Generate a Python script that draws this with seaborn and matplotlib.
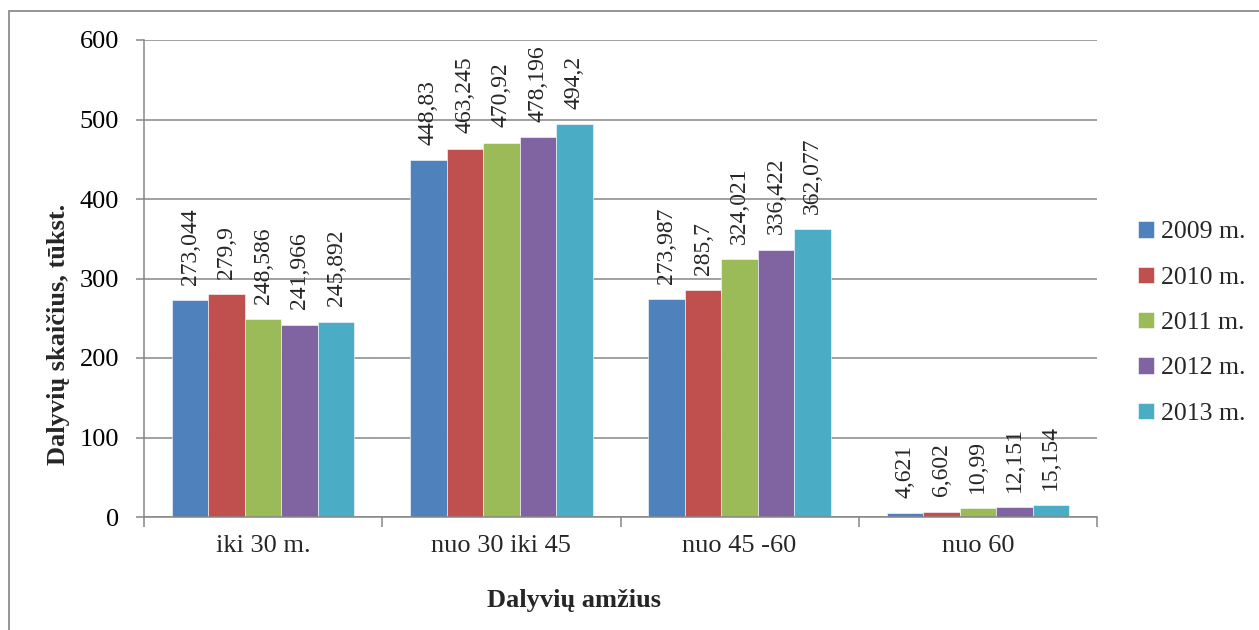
import matplotlib
matplotlib.use("Agg")
import matplotlib.pyplot as plt
import seaborn as sns
import pandas as pd
from matplotlib.patches import Rectangle

# ---- data ----
categories = ["iki 30 m.", "nuo 30 iki 45", "nuo 45 -60", "nuo 60"]
years = ["2009 m.", "2010 m.", "2011 m.", "2012 m.", "2013 m."]
v2009 = [273.044, 448.83, 273.987, 4.621]
v2010 = [279.9, 463.245, 285.7, 6.602]
v2011 = [248.586, 470.92, 324.021, 10.99]
v2012 = [241.966, 478.196, 336.422, 12.151]
v2013 = [245.892, 494.2, 362.077, 15.154]
series = [v2009, v2010, v2011, v2012, v2013]
colors = ["#4F81BD", "#C0504D", "#9BBB59", "#8064A2", "#4BACC6"]
yticks = [0, 100, 200, 300, 400, 500, 600]
ylabel = "Dalyvių skaičius, tūkst."
xlabel = "Dalyvių amžius"

rows = []
for yr, vals in zip(years, series):
    for c, v in zip(categories, vals):
        rows.append({"cat": c, "year": yr, "value": v})
df = pd.DataFrame(rows)

sns.set_style("white")
plt.rcParams["font.family"] = ["Liberation Serif", "DejaVu Serif"]

W, H = 1259, 630
fig = plt.figure(figsize=(W / 100, H / 100), dpi=100)
ax = fig.add_axes([144 / W, 1 - 517 / H, (1097 - 144) / W, (517 - 40) / H])

sns.barplot(data=df, x="cat", y="value", hue="year", order=categories,
            hue_order=years, palette=colors, saturation=1, width=0.765,
            gap=0, edgecolor="white", linewidth=0.4, ax=ax, legend=True,
            errorbar=None)

grid_c = "#868686"
ax.set_ylim(0, 600)
ax.set_yticks(yticks)
ax.set_xlim(-0.5, len(categories) - 0.5)
ax.set_axisbelow(True)
ax.yaxis.grid(True, color=grid_c, linewidth=1.1)
ax.xaxis.grid(False)
for s in ["top", "right"]:
    ax.spines[s].set_visible(False)
for s in ["left", "bottom"]:
    ax.spines[s].set_visible(True)
    ax.spines[s].set_color(grid_c)
    ax.spines[s].set_linewidth(1.1)

ax.tick_params(axis="y", which="major", length=6, width=1.1, color=grid_c,
               direction="out", labelsize=19, pad=12, labelcolor="black", left=True)
ax.set_xticks(range(len(categories)))
ax.set_xticklabels(categories)
ax.tick_params(axis="x", which="major", length=0, labelsize=19, pad=13)
ax.set_xticks([i - 0.5 for i in range(len(categories) + 1)], minor=True)
ax.tick_params(axis="x", which="minor", length=7, width=1.1, color=grid_c,
               direction="out", bottom=True)

for cont in ax.containers:
    labs = [str(v).replace(".", ",") for v in cont.datavalues]
    ax.bar_label(cont, labels=labs, rotation=90, padding=11, fontsize=17)

ax.set_ylabel(ylabel, fontsize=19, fontweight="bold")
ax.yaxis.set_label_coords((70 - 144) / (1097 - 144), (517 - 334) / (517 - 40))
ax.set_xlabel(xlabel, fontsize=19, fontweight="bold")
ax.xaxis.set_label_coords((574 - 144) / (1097 - 144), (517 - 589) / (517 - 40))

leg = ax.get_legend()
handles = leg.legend_handles
leg.remove()
fig.legend(handles, years, loc="center left",
           bbox_to_anchor=(1128 / W, 1 - 323 / H), frameon=False,
           fontsize=18.5, handlelength=0.6, handleheight=0.6,
           handletextpad=0.3, labelspacing=0.9, borderaxespad=0)

fig.patches.append(Rectangle((9 / W, -0.1), 1.2, 1.1 - 11 / H,
                             transform=fig.transFigure, fill=False,
                             edgecolor="#8c8c8c", linewidth=1.3))

fig.savefig("out.png", dpi=100)
